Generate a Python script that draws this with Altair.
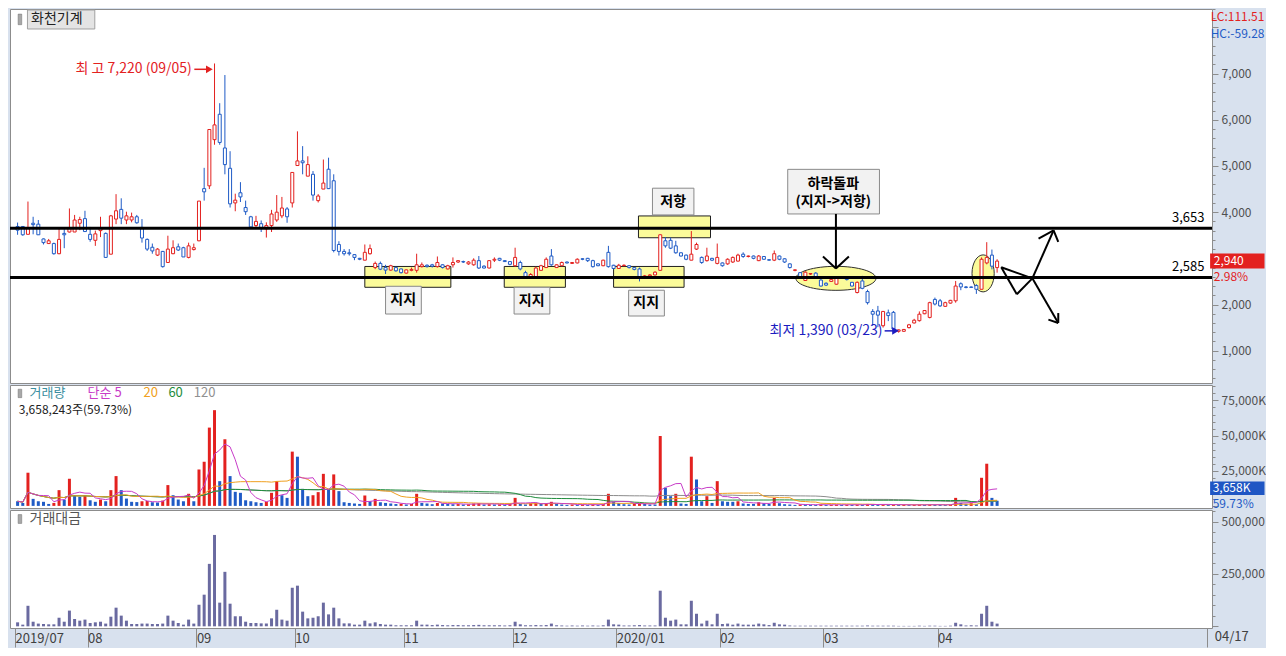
import altair as alt
import numpy as np
import pandas as pd

FONT = "Noto Sans CJK KR"
RED = "#e3211f"
BLUE = "#1f5bc6"

# ---------------- data ----------------
month_ticks = [-0.5, 13.5, 34.5, 53.5, 74.5, 95.5, 115.5, 135.5, 155.5, 177.5, 229.5]
month_labels = ["2019/07", "08", "09", "10", "11", "12", "2020/01", "02", "03", "04", ""]

opens = [
    3690, 3690, 3520, 3760, 3740, 3420, 3320, 3320, 3100, 3540,
    3570, 3570, 3760, 3860, 3520, 3390, 3600, 3540, 3090, 3850,
    4060, 3830, 3830, 3900, 3670, 3410, 3240, 3070, 3150, 2910,
    3100, 3250, 3230, 3020, 3190, 3380, 4510, 4570, 5570, 6120,
    5390, 4950, 4200, 4420, 4100, 3900, 3710, 3750, 3640, 3710,
    3830, 3920, 4070, 4200, 5010, 5110, 4780, 4820, 4250, 4500,
    4930, 4680, 3300, 3150, 3120, 3080, 3000, 2960, 3100, 2800,
    2890, 2800, 2745, 2800, 2770, 2680, 2740, 2740, 2820, 2850,
    2860, 2820, 2860, 2770, 2860, 2920, 2930, 2880, 2860, 2950,
    2830, 2790, 2960, 3000, 2950, 2930, 2840, 2910, 2690, 2600,
    2600, 2740, 2800, 3050, 2800, 2840, 2920, 2890, 2900, 2990,
    3000, 2950, 2880, 2840, 3130, 2850, 2780, 2840, 2840, 2800,
    2770, 2600, 2620, 2640, 2740, 3380, 3390, 3270, 3120, 3070,
    2960, 3200, 3020, 2950, 3000, 2890, 2900, 2880, 2920, 2940,
    3090, 3040, 3050, 2950, 3040, 2970, 2960, 3050, 2990, 2880,
    2740, 2690, 2520, 2660, 2680, 2530, 2460, 2500, 2440, 2580,
    2600, 2480, 2260, 2510, 2280, 1850, 1860, 1540, 1820, 1830,
    1420, 1420, 1500, 1600, 1650, 1800, 1720, 2110, 2080, 1960,
    2030, 2080, 2450, 2380, 2380, 2410, 2330, 2900, 3070, 2800,
]
highs = [
    3775, 3700, 4230, 3900, 3830, 3430, 3420, 3340, 3650, 3630,
    4080, 3940, 3900, 4030, 3680, 3600, 3900, 3560, 3940, 4390,
    4300, 4010, 3990, 3940, 3850, 3430, 3320, 3220, 3160, 3490,
    3390, 3320, 3250, 3340, 3320, 4240, 4960, 5790, 7220, 6360,
    6970, 5320, 4400, 4650, 4250, 3920, 3920, 3820, 3780, 4050,
    4370, 4330, 4110, 4860, 5750, 5430, 5210, 4890, 4390, 5140,
    5180, 4820, 3370, 3200, 3200, 3090, 3010, 3300, 3300, 2930,
    2930, 2860, 2860, 2820, 2780, 2760, 2800, 3100, 2910, 2870,
    2880, 3040, 2870, 2860, 3020, 2960, 2950, 2940, 3000, 3050,
    2850, 2960, 3020, 3010, 2960, 2940, 3230, 2950, 2730, 2680,
    2820, 2860, 3020, 3200, 2870, 2930, 2930, 2920, 3000, 3000,
    3010, 2970, 2890, 2970, 3270, 2860, 2880, 2870, 2850, 2810,
    2800, 2640, 2660, 2720, 3520, 3460, 3450, 3380, 3130, 3080,
    3590, 3340, 3040, 3230, 3010, 3320, 2910, 3000, 3040, 3100,
    3130, 3060, 3060, 3070, 3050, 2980, 3170, 3060, 3000, 2890,
    2760, 2700, 2720, 2680, 2700, 2550, 2480, 2560, 2600, 2600,
    2610, 2490, 2500, 2620, 2320, 1900, 1970, 1860, 1890, 1860,
    1460, 1470, 1580, 1690, 1850, 1880, 2060, 2150, 2120, 2060,
    2100, 2510, 2480, 2400, 2390, 2440, 3020, 3350, 3190, 2980,
]
lows = [
    3510, 3490, 3520, 3520, 3510, 3300, 3310, 3080, 3090, 3220,
    3560, 3570, 3610, 3580, 3360, 3270, 3460, 3020, 3090, 3740,
    3740, 3740, 3780, 3750, 3340, 3160, 3100, 3050, 2800, 2910,
    3090, 3160, 3030, 3000, 3170, 3370, 4250, 4500, 5460, 5460,
    4820, 4100, 4020, 4220, 3940, 3660, 3680, 3570, 3450, 3570,
    3790, 3870, 3770, 4100, 5010, 4820, 4780, 4250, 4210, 4500,
    4500, 3130, 3060, 3060, 3060, 2960, 2960, 2960, 3080, 2765,
    2745, 2660, 2730, 2710, 2670, 2670, 2720, 2690, 2800, 2800,
    2800, 2800, 2780, 2760, 2800, 2900, 2900, 2860, 2840, 2770,
    2780, 2780, 2920, 2940, 2920, 2850, 2820, 2740, 2590, 2590,
    2590, 2730, 2790, 2840, 2790, 2830, 2890, 2880, 2890, 2960,
    2920, 2800, 2830, 2830, 2800, 2760, 2770, 2830, 2780, 2740,
    2500, 2590, 2610, 2630, 2730, 3230, 3200, 3100, 3040, 2960,
    2960, 3180, 2880, 2930, 2940, 2870, 2820, 2860, 2900, 2930,
    3010, 3020, 2980, 2940, 2970, 2950, 2940, 2960, 2900, 2780,
    2720, 2590, 2510, 2640, 2580, 2390, 2400, 2490, 2430, 2560,
    2520, 2390, 2240, 2330, 2000, 1540, 1510, 1500, 1640, 1430,
    1390, 1410, 1480, 1590, 1630, 1790, 1700, 1980, 1950, 1950,
    2020, 2040, 2310, 2350, 2360, 2230, 2330, 2870, 2760, 2690,
]
closes = [
    3610, 3510, 3660, 3730, 3510, 3340, 3380, 3100, 3410, 3510,
    3650, 3830, 3840, 3580, 3410, 3530, 3660, 3020, 3920, 4030,
    3870, 3920, 3900, 3770, 3440, 3200, 3160, 3200, 2820, 3200,
    3230, 3180, 3030, 3270, 3230, 4240, 4440, 5790, 5890, 5510,
    5030, 4180, 4260, 4330, 4010, 3680, 3800, 3650, 3710, 3960,
    4000, 4090, 3900, 4860, 5110, 5070, 5030, 4370, 4350, 4630,
    4510, 3170, 3150, 3100, 3100, 3020, 2980, 3130, 3210, 2890,
    2765, 2745, 2840, 2730, 2690, 2750, 2760, 2860, 2860, 2820,
    2830, 2910, 2800, 2840, 2910, 2950, 2920, 2920, 2960, 2790,
    2790, 2950, 2980, 2960, 2930, 2870, 3020, 2770, 2600, 2650,
    2790, 2840, 2980, 2860, 2860, 2910, 2900, 2910, 2980, 2980,
    2950, 2820, 2840, 2960, 2820, 2780, 2850, 2850, 2800, 2760,
    2580, 2620, 2640, 2700, 3510, 3270, 3220, 3120, 3050, 2980,
    3090, 3300, 2910, 3050, 2960, 3020, 2840, 2980, 3020, 3070,
    3040, 3050, 3000, 3050, 2980, 2960, 3100, 2980, 2920, 2800,
    2750, 2600, 2700, 2670, 2600, 2400, 2420, 2540, 2580, 2570,
    2540, 2400, 2480, 2350, 2040, 1790, 1770, 1850, 1760, 1470,
    1450, 1460, 1560, 1660, 1790, 1870, 2040, 2010, 1970, 2040,
    2090, 2400, 2380, 2370, 2370, 2330, 2980, 3020, 2830, 2940,
]
# volume, thousand shares
volumes = [
    3300, 2100, 23600, 5000, 3300, 2900, 1400, 2100, 11200, 4500,
    19300, 7600, 6400, 7600, 4000, 2900, 4500, 3300, 11200, 21200,
    11200, 5200, 2900, 2700, 3300, 3500, 2600, 2400, 3800, 14800,
    7600, 4500, 3300, 8600, 3300, 25900, 31400, 55700, 68100, 17600,
    47400, 21200, 10000, 9300, 4000, 3300, 2600, 2100, 2900, 9300,
    17600, 7600, 5700, 38600, 35000, 12100, 6900, 7600, 9800, 22800,
    11700, 22400, 10500, 2600, 2100, 1700, 1400, 7400, 3300, 5000,
    2600, 2100, 1700, 1300, 1500, 1000, 1400, 8600, 2100, 1700,
    1200, 2100, 1700, 1400, 1200, 1300, 1000, 1100, 1700, 1900,
    1000, 1200, 1000, 1100, 700, 1400, 5700, 1400, 1000, 1900,
    2100, 1400, 1900, 2900, 1400, 1000, 700, 1000, 700, 1000,
    700, 1000, 700, 1400, 8600, 2900, 2100, 1200, 1000, 1700,
    2100, 1400, 1000, 1000, 49700, 12900, 6900, 8600, 1700, 1400,
    35000, 18800, 3300, 6900, 2100, 17600, 3300, 2900, 2900, 3300,
    1700, 1400, 1400, 2600, 1900, 1400, 5700, 1900, 1200, 1000,
    700, 1000, 1000, 800, 700, 900, 700, 800, 900, 700,
    800, 700, 900, 800, 1400, 1000, 900, 1100, 800, 900,
    700, 800, 600, 700, 900, 700, 1000, 800, 700, 600,
    800, 5700, 2100, 1400, 1900, 1200, 20000, 30000, 5700, 3658,
]
# trading value, million won
amounts = [
    19000, 8000, 98000, 22000, 13000, 11000, 9500, 9500, 41000, 22000,
    75000, 35000, 27000, 32000, 16000, 19000, 22000, 13000, 46000, 89000,
    51000, 27000, 11000, 11000, 13000, 13000, 11000, 11000, 13000, 51000,
    27000, 16000, 8000, 32000, 13000, 103000, 151000, 298000, 436000, 113000,
    260000, 108000, 48000, 48000, 22000, 16000, 16000, 14000, 14000, 38000,
    79000, 32000, 27000, 184000, 194000, 70000, 38000, 41000, 48000, 113000,
    57000, 89000, 38000, 14000, 14000, 8000, 8000, 27000, 14000, 19000,
    11000, 8000, 8000, 5000, 5000, 5000, 5000, 27000, 8000, 8000,
    6000, 8000, 6000, 5000, 6000, 6000, 5000, 5000, 6000, 7000,
    5000, 5000, 5000, 5000, 4000, 5000, 22000, 9500, 5000, 5000,
    6000, 5000, 6000, 13000, 5000, 4000, 3000, 4000, 3000, 4000,
    3000, 4000, 3000, 5000, 32000, 9500, 8000, 4000, 4000, 5000,
    6000, 4000, 4000, 4000, 170000, 41000, 27000, 32000, 9500, 9500,
    122000, 60000, 13000, 27000, 9500, 60000, 11000, 13000, 8000, 13000,
    8000, 8000, 8000, 13000, 9500, 6000, 17000, 9500, 8000, 4000,
    3000, 3000, 3000, 3000, 3000, 3000, 3000, 3000, 3000, 3000,
    3000, 3000, 3000, 3000, 4000, 3000, 3000, 3000, 3000, 3000,
    2000, 2000, 2000, 2000, 3000, 2000, 3000, 3000, 2000, 2000,
    3000, 17000, 9500, 4000, 5000, 4000, 60000, 98000, 22000, 13000,
]

level_values = [3653, 2585]
level_labels = ["3,653", "2,585"]

# ---------------- frames ----------------
n = len(opens)
df = pd.DataFrame({"i": np.arange(n), "open": opens, "high": highs, "low": lows,
                   "close": closes, "vol": volumes, "amt": amounts})
df["dir"] = np.where(df["close"] >= df["open"], "up", "down")
df["vdir"] = np.where(df["vol"].diff() > 0, "up", "down")

dir_scale = alt.Scale(domain=["up", "down"], range=[RED, BLUE])

XS = alt.Scale(domain=[-0.5, 229.5], nice=False, zero=False)
YP = alt.Scale(domain=[300, 8400], nice=False, zero=False)
YV = alt.Scale(domain=[-1500, 86000], nice=False, zero=False)
YT = alt.Scale(domain=[-8000, 555000], nice=False, zero=False)


def cond(test, big, small):
    return {"condition": {"test": test, "value": big}, "value": small}


common_axis = dict(orient="right", title=None, domain=False, grid=False, tickColor="#8c8c8c",
                   labelColor="#505050", labelFont=FONT, labelPadding=3,
                   labelOverlap=False, labelBaseline="middle")

p_lab = "datum.value % 1000 === 0 && datum.value <= 7000 && datum.value !== 3000"
PAX = alt.Axis(values=list(range(400, 8401, 200)),
               labelExpr=f"{p_lab} ? format(datum.value, ',') : ''",
               labelFontSize=cond(p_lab, 12, 0),
               tickSize=cond("datum.value % 1000 === 0", 6, 3), **common_axis)
v_lab = "datum.value > 0 && datum.value % 25000 === 0"
VAX = alt.Axis(values=list(range(0, 85001, 5000)),
               labelExpr=f"{v_lab} ? format(datum.value, ',') + 'K' : ''",
               labelFontSize=cond(v_lab, 12, 0),
               tickSize=cond("datum.value % 25000 === 0", 6, 3), **common_axis)
t_lab = "datum.value > 0 && datum.value % 250000 === 0"
TAX = alt.Axis(values=list(range(0, 550001, 50000)),
               labelExpr=f"{t_lab} ? format(datum.value, ',') : ''",
               labelFontSize=cond(t_lab, 12, 0),
               tickSize=cond("datum.value % 250000 === 0", 6, 3), **common_axis)

lab_arr = "[" + ",".join("' %s'" % s for s in month_labels) + "]"
val_arr = "[" + ",".join(str(v) for v in month_ticks) + "]"
XB = alt.Axis(orient="bottom", title=None, values=month_ticks,
              labelExpr=f"{lab_arr}[indexof({val_arr}, datum.value)]",
              tickSize=19, tickColor="#8c8c8c", domain=False, grid=False,
              labelAlign="left", labelBaseline="middle", labelPadding=-9,
              labelFont=FONT, labelFontSize=13, labelColor="#404040",
              labelOverlap=False, labelFlush=False, labelBound=False)


def X(field, axis=None):
    return alt.X(f"{field}:Q", scale=XS, axis=axis)


def text_layer(rows, yscale, yaxis, xaxis=None, **kw):
    d = pd.DataFrame(rows, columns=["x", "y", "t", "c"])
    base = dict(font=FONT)
    base.update(kw)
    return alt.Chart(d).mark_text(**base).encode(
        x=X("x", xaxis), y=alt.Y("y:Q", scale=yscale, axis=yaxis),
        text="t:N", color=alt.Color("c:N", scale=None))


def rect_layer(rows, yscale, yaxis, xaxis=None, **kw):
    d = pd.DataFrame(rows, columns=["x", "x2", "y", "y2"])
    return alt.Chart(d).mark_rect(**kw).encode(
        x=X("x", xaxis), x2="x2:Q", y=alt.Y("y:Q", scale=yscale, axis=yaxis), y2="y2:Q")


# ---------------- price panel ----------------
zones = rect_layer([(67.0, 83.6, 2824, 2373), (93.9, 105.7, 2824, 2373),
                    (115.0, 128.6, 2824, 2373), (119.8, 133.7, 3918, 3446)],
                   YP, PAX, fill="#fbfb9a", stroke="#202020", strokeWidth=1)

ell1 = alt.Chart(pd.DataFrame({"x": [157.9], "y": [2567]})).mark_point(
    shape="M-1,0A1,0.3,0,1,1,1,0A1,0.3,0,1,1,-1,0Z", size=6400, filled=True,
    fill="#fbfb9a", stroke="#303030", strokeWidth=1, opacity=1, fillOpacity=1).encode(
    x=X("x"), y=alt.Y("y:Q", scale=YP, axis=PAX))
ell2 = alt.Chart(pd.DataFrame({"x": [186.3], "y": [2674]})).mark_point(
    shape="M0,-1A0.6,1,0,1,1,0,1A0.6,1,0,1,1,0,-1Z", size=1369, filled=True,
    fill="#fbfb9a", stroke="#303030", strokeWidth=1, opacity=1, fillOpacity=1).encode(
    x=X("x"), y=alt.Y("y:Q", scale=YP, axis=PAX))

wick = alt.Chart(df).mark_rule(strokeWidth=1).encode(
    x=X("i"), y=alt.Y("low:Q", scale=YP, axis=PAX), y2="high:Q",
    color=alt.Color("dir:N", scale=dir_scale, legend=None))
body = alt.Chart(df).mark_bar(size=3, fill="white", strokeWidth=1).encode(
    x=X("i"), y=alt.Y("open:Q", scale=YP, axis=PAX), y2="close:Q",
    stroke=alt.Stroke("dir:N", scale=dir_scale, legend=None))

hlines = alt.Chart(pd.DataFrame({"y": level_values})).mark_rule(strokeWidth=3, color="black").encode(
    y=alt.Y("y:Q", scale=YP, axis=PAX))

lbl_boxes = rect_layer([(71.0, 77.9, 2395, 1794), (95.8, 102.7, 2373, 1794),
                        (117.9, 124.8, 2309, 1751), (122.5, 130.5, 4519, 3940),
                        (148.6, 166.3, 4927, 3961)],
                       YP, PAX, fill="#f2f2f2", stroke="#8a8a8a", strokeWidth=1)
lbl_texts = text_layer([(74.4, 2095, "지지", "black"), (99.2, 2084, "지지", "black"),
                        (121.3, 2030, "지지", "black"), (126.5, 4230, "저항", "black"),
                        (157.4, 4620, "하락돌파", "black"), (157.4, 4230, "(지지->저항)", "black")],
                       YP, PAX, fontSize=14, fontWeight="bold", align="center", baseline="middle")

segs = pd.DataFrame([
    (157.9, 3961, 157.9, 2781), (155.4, 3039, 157.9, 2781), (160.4, 3039, 157.9, 2781),
    (195.8, 2567, 189.8, 2807), (189.8, 2807, 192.8, 2223), (192.8, 2223, 195.8, 2567),
    (195.8, 2567, 199.9, 3604), (195.8, 2567, 200.8, 1601),
    (197.0, 3425, 199.9, 3604), (200.8, 3354, 199.9, 3604),
    (198.9, 1672, 200.8, 1601), (200.8, 1815, 200.8, 1601),
], columns=["x", "y", "x2", "y2"])
seg_layer = alt.Chart(segs).mark_rule(strokeWidth=2, color="black").encode(
    x=X("x"), x2="x2:Q", y=alt.Y("y:Q", scale=YP, axis=PAX), y2="y2:Q")

hl_segs = pd.DataFrame([(34.1, 7094, 37.0, 7094, RED), (167.3, 1429, 169.4, 1429, "#1c1cc0")],
                       columns=["x", "y", "x2", "y2", "c"])
hl_seg_layer = alt.Chart(hl_segs).mark_rule(strokeWidth=1.5).encode(
    x=X("x"), x2="x2:Q", y=alt.Y("y:Q", scale=YP, axis=PAX), y2="y2:Q",
    color=alt.Color("c:N", scale=None))
hl_heads = alt.Chart(pd.DataFrame({"x": [37.0, 169.4], "y": [7094, 1429], "c": [RED, "#1c1cc0"]})).mark_point(
    shape="triangle-right", filled=True, size=60, opacity=1).encode(
    x=X("x"), y=alt.Y("y:Q", scale=YP, axis=PAX), color=alt.Color("c:N", scale=None))
hl_texts = text_layer([(33.6, 7094, "최 고 7,220 (09/05)", RED),
                       (166.9, 1429, "최저 1,390 (03/23)", "#1c1cc0")],
                      YP, PAX, fontSize=14, align="right", baseline="middle")

lvl_texts = text_layer([(229.0, 3720, level_labels[0], "black"), (229.0, 2652, level_labels[1], "black")],
                       YP, PAX, fontSize=13, align="right", baseline="bottom")

icons_p = rect_layer([(0.1, 0.8, 8290, 8060)], YP, PAX, fill="#a8a8a8", stroke="#707070", strokeWidth=0.5)
title_box = rect_layer([(1.9, 14.9, 8378, 7967)], YP, PAX, fill="#e4e4e4", stroke="#a0a0a0", strokeWidth=1)
title_txt = text_layer([(2.6, 8173, "화천기계", "#222222")], YP, PAX, fontSize=14, align="left", baseline="middle")

price_box = rect_layer([(230.1, 240.6, 3103, 2781)], YP, PAX, fill=RED)
side_texts = text_layer([(230.2, 8227, "LC:111.51", RED), (230.2, 7858, "HC:-59.28", BLUE),
                         (230.8, 2942, "2,940", "white"), (230.8, 2588, "2.98%", RED)],
                        YP, PAX, fontSize=12, align="left", baseline="middle")

price_panel = alt.layer(zones, ell1, ell2, wick, body, hlines, lbl_boxes, lbl_texts, seg_layer,
                        hl_seg_layer, hl_heads, hl_texts, lvl_texts, icons_p, title_box, title_txt,
                        price_box, side_texts).properties(width=1202, height=374)

# ---------------- volume panel ----------------
vbars = alt.Chart(df).mark_bar(size=3).encode(
    x=X("i"), y=alt.Y("vol:Q", scale=YV, axis=VAX), y2=alt.datum(0),
    color=alt.Color("vdir:N", scale=dir_scale, legend=None))
ma_layers = []
for w, c in [(120, "#8c8c8c"), (60, "#1e8c3c"), (20, "#f0a020"), (5, "#c83cc8")]:
    ma_layers.append(
        alt.Chart(df).transform_window(ma="mean(vol)", frame=[-(w - 1), 0], sort=[alt.SortField("i")])
        .mark_line(color=c, strokeWidth=1).encode(x=X("i"), y=alt.Y("ma:Q", scale=YV, axis=VAX)))
icons_v = rect_layer([(0.1, 0.8, 83000, 77000)], YV, VAX, fill="#a8a8a8", stroke="#707070", strokeWidth=0.5)
vol_head = text_layer([(2.3, 80000, "거래량", "#3a8ea0"), (13.5, 80000, "단순 5", "#c83cc8"),
                       (24.3, 80000, "20", "#f0a020"), (29.1, 80000, "60", "#1e8c3c"),
                       (34.0, 80000, "120", "#909090")],
                      YV, VAX, fontSize=13, align="left", baseline="middle")
vol_sub = text_layer([(0.2, 68400, "3,658,243주(59.73%)", "#222222")], YV, VAX,
                     fontSize=12, align="left", baseline="middle")
vol_box = rect_layer([(230.1, 240.6, 17400, 7800)], YV, VAX, fill="#1f56c4")
vol_side = text_layer([(230.6, 12600, "3,658K", "white"), (230.6, 1700, "59.73%", BLUE)],
                      YV, VAX, fontSize=12, align="left", baseline="middle")
vol_panel = alt.layer(vbars, *ma_layers, icons_v, vol_head, vol_sub, vol_box, vol_side).properties(
    width=1202, height=123)

# ---------------- trading value panel ----------------
tbars = alt.Chart(df).mark_bar(size=3, color="#6a6aa0").encode(
    x=X("i", XB), y=alt.Y("amt:Q", scale=YT, axis=TAX), y2=alt.datum(0))
icons_t = rect_layer([(0.1, 0.8, 533000, 491000)], YT, TAX, xaxis=XB, fill="#a8a8a8",
                     stroke="#707070", strokeWidth=0.5)
t_head = text_layer([(2.3, 512000, "거래대금", "#555555")], YT, TAX, xaxis=XB,
                    fontSize=14, align="left", baseline="middle")
t_date = text_layer([(231.0, -53300, "04/17", "#404040")], YT, TAX, xaxis=XB,
                    fontSize=13, align="left", baseline="middle")
amt_panel = alt.layer(tbars, icons_t, t_head, t_date).properties(width=1202, height=118)

chart = alt.vconcat(price_panel, vol_panel, amt_panel, spacing=2, bounds="flush").properties(
    background="#d8e1ee", padding=0
).configure_view(stroke="#8c8c8c", fill="white", strokeWidth=1).configure_text(font=FONT)

chart.save("out.html", embed_options={"renderer": "svg", "actions": False})
